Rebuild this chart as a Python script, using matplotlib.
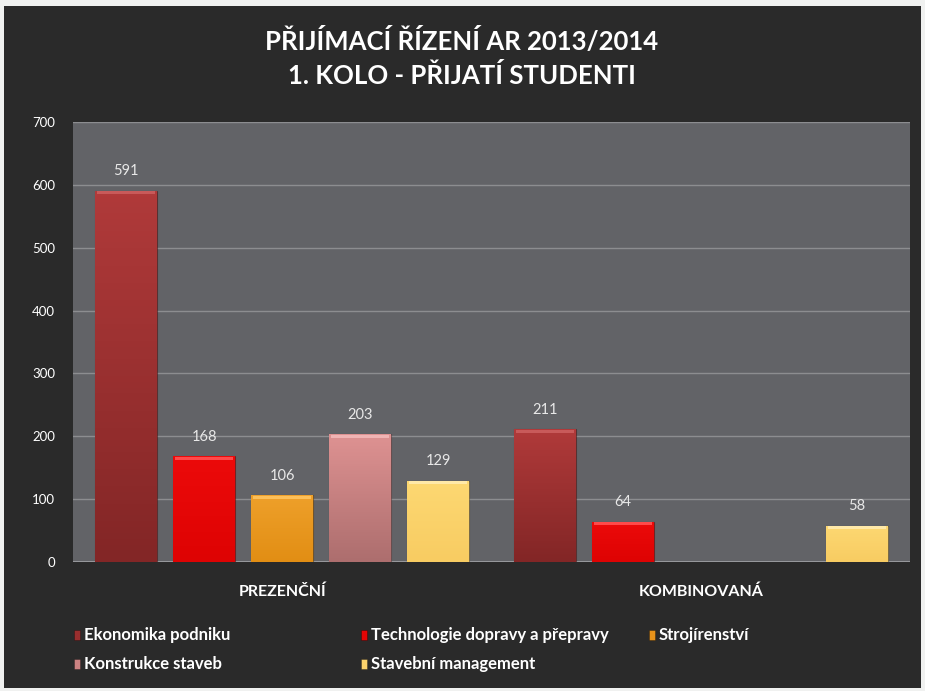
import matplotlib
matplotlib.use("Agg")
import matplotlib.pyplot as plt
import numpy as np
from matplotlib.colors import LinearSegmentedColormap
from matplotlib.patches import Rectangle

# data
categories = ["PREZENČNÍ", "KOMBINOVANÁ"]
series_names = ["Ekonomika podniku", "Technologie dopravy a přepravy", "Strojírenství",
                "Konstrukce staveb", "Stavební management"]
values = [
    [591, 211],
    [168, 64],
    [106, None],
    [203, None],
    [129, 58],
]
# (top, bottom) shades of each series
colors = ["#9a2e2e", "#e40505", "#e8931a", "#cc8282", "#fcd36c"]
grad = [("#b03a3a", "#832626"), ("#ec0a0a", "#de0303"), ("#eea02a", "#e28e14"),
        ("#de9292", "#ad6e6e"), ("#fdd872", "#f8cc62")]
tops = ["#c85a5a", "#ff4a4a", "#fbbf5a", "#f0b4b4", "#ffe9a8"]
yticks = [0, 100, 200, 300, 400, 500, 600, 700]
title_lines = ["PŘIJÍMACÍ ŘÍZENÍ AR 2013/2014", "1. KOLO - PŘIJATÍ STUDENTI"]

plt.rcParams["font.family"] = ["Lato", "DejaVu Sans"]

W, H = 925, 691
fig = plt.figure(figsize=(W / 100, H / 100), dpi=100)
fig.patch.set_facecolor("#f0f1f0")
# dark chart background
fig.patches.append(Rectangle((4 / W, 3 / H), 917 / W, 682 / H, transform=fig.transFigure,
                             facecolor="#2a2a2a", edgecolor="none", zorder=-5))

ax = fig.add_axes([73 / W, (H - 562) / H, 837 / W, 440 / H])
ax.set_zorder(1)
ax.set_facecolor("#626367")
for s in ax.spines.values():
    s.set_visible(False)

ax.set_ylim(0, 700)
ax.set_xlim(-0.5, len(categories) - 0.5)
ax.set_yticks(yticks)
ax.set_yticklabels([str(t) for t in yticks], color="white", fontsize=9.5)
ax.tick_params(axis="y", length=0, pad=13)
ax.tick_params(axis="x", length=0, pad=16)
ax.set_xticks(range(len(categories)))
ax.set_xticklabels(categories, color="white", fontsize=11.5, fontweight="bold")
ax.grid(axis="y", color="#8c8d90", linewidth=1.0)
ax.axhline(0, color="#a0a1a4", linewidth=1.2, zorder=2)
ax.set_axisbelow(True)

x = np.arange(len(categories))
pitch = 0.1864
width = 0.148
n = len(series_names)
ramp = np.linspace(1, 0, 64).reshape(-1, 1)
for i, (name, vals) in enumerate(zip(series_names, values)):
    offs = (i - (n - 1) / 2) * pitch
    cmap = LinearSegmentedColormap.from_list(f"g{i}", [grad[i][1], grad[i][0]])
    for j, v in enumerate(vals):
        if v is None:
            continue
        bar = ax.bar(x[j] + offs, v, width, color=colors[i], edgecolor="#00000050",
                     linewidth=0.8, zorder=3)[0]
        img = ax.imshow(ramp, cmap=cmap, aspect="auto", zorder=3.5,
                        extent=(x[j] + offs - width / 2, x[j] + offs + width / 2, 0, v))
        img.set_clip_path(bar)
        # bevel highlight on top
        ax.bar(x[j] + offs, 5, width * 0.94, bottom=v - 5.5, color=tops[i],
               edgecolor="none", zorder=4)
        ax.annotate(str(v), (x[j] + offs, v), xytext=(0, 9), textcoords="offset points",
                    ha="center", va="bottom", color="#e8e8e8", fontsize=10.5)

ax.set_xlim(-0.5, len(categories) - 0.5)
ax.set_ylim(0, 700)

# title
fig.text(462 / W, 1 - 41 / H, title_lines[0], ha="center", va="center",
         color="white", fontsize=18.5, fontweight="bold")
fig.text(462 / W, 1 - 76 / H, title_lines[1], ha="center", va="center",
         color="white", fontsize=18.5, fontweight="bold")

# legend (row-wise, like the original)
slots = [(74, 635), (361, 635), (649, 635), (74, 664), (361, 664)]
for (px, py), name, c in zip(slots, series_names, colors):
    fig.patches.append(Rectangle((px / W, 1 - (py + 5) / H), 6 / W, 10 / H,
                                 transform=fig.transFigure, facecolor=c,
                                 edgecolor="#00000060", linewidth=0.5, zorder=2))
    fig.text((px + 10) / W, 1 - py / H, name, ha="left", va="center",
             color="white", fontsize=12, fontweight="bold")

fig.savefig("out.png", dpi=100, facecolor=fig.get_facecolor())
